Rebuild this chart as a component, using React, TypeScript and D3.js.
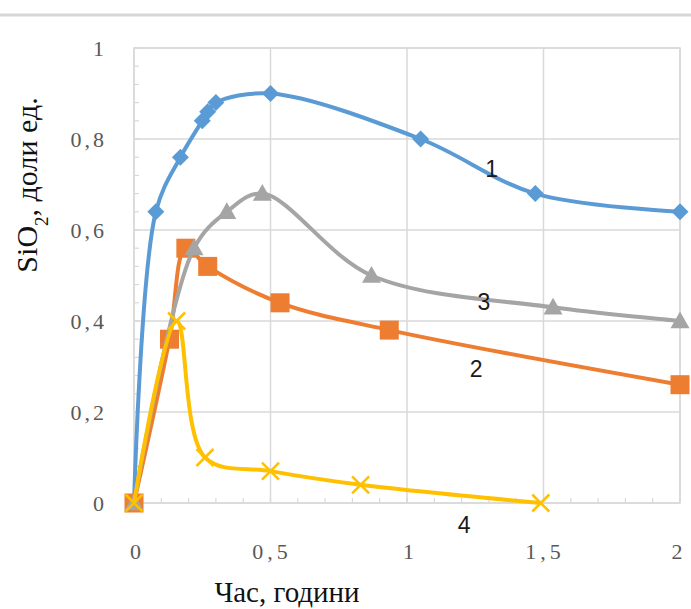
import React from "react";
import * as d3 from "d3";

const xTicks = [0, 0.5, 1, 1.5, 2];
const xTickLabels = ["0", "0,5", "1", "1,5", "2"];
const yTicks = [0, 0.2, 0.4, 0.6, 0.8, 1];
const yTickLabels = ["0", "0,2", "0,4", "0,6", "0,8", "1"];

const s1x = [0, 0.08, 0.17, 0.25, 0.27, 0.3, 0.5, 1.05, 1.47, 2.0];
const s1y = [0, 0.64, 0.76, 0.84, 0.86, 0.88, 0.9, 0.8, 0.68, 0.64];
const s2x = [0, 0.13, 0.19, 0.27, 0.535, 0.935, 2.0];
const s2y = [0, 0.36, 0.56, 0.52, 0.44, 0.38, 0.26];
const s3x = [0, 0.22, 0.34, 0.47, 0.87, 1.535, 2.0];
const s3y = [0, 0.56, 0.64, 0.68, 0.5, 0.43, 0.4];
const s4x = [0, 0.156, 0.26, 0.5, 0.83, 1.49];
const s4y = [0, 0.4, 0.1, 0.07, 0.04, 0.0];

const seriesNames = ["1", "2", "3", "4"];
const colors = ["#5B9BD5", "#ED7D31", "#A5A5A5", "#FFC000"];
const markers = ["diamond", "square", "triangle", "x"];
const labelPos = [
  [1.31, 0.717],
  [1.253, 0.277],
  [1.282, 0.424],
  [1.209, -0.066],
];

const W = 691;
const H = 609;
const L = 134, R = 680, T = 48, B = 503;

export default function App() {
  const x = d3.scaleLinear().domain([0, 2]).range([L, R]);
  const y = d3.scaleLinear().domain([0, 1]).range([B, T]);
  const data = [
    s1x.map((v, i) => [v, s1y[i]]),
    s2x.map((v, i) => [v, s2y[i]]),
    s3x.map((v, i) => [v, s3y[i]]),
    s4x.map((v, i) => [v, s4y[i]]),
  ] as [number, number][][];
  const line = d3
    .line<[number, number]>()
    .x((d) => x(d[0]))
    .y((d) => y(d[1]))
    .curve(d3.curveCatmullRom.alpha(0.5));

  const minorY = d3.range(0, 1.0001, 0.04);
  const minorX = d3.range(0, 2.0001, 0.1);
  const grid = "#d9d9d9";

  const marker = (kind: string, cx: number, cy: number, color: string, key: string) => {
    if (kind === "diamond") {
      const r = 8.5;
      return (
        <path key={key} d={`M${cx},${cy - r}L${cx + r},${cy}L${cx},${cy + r}L${cx - r},${cy}Z`} fill={color} />
      );
    }
    if (kind === "square") {
      const r = 9.5;
      return <rect key={key} x={cx - r} y={cy - r} width={2 * r} height={2 * r} fill={color} />;
    }
    if (kind === "triangle") {
      const r = 9.5;
      return (
        <path key={key} d={`M${cx},${cy - r}L${cx + r},${cy + r * 0.75}L${cx - r},${cy + r * 0.75}Z`} fill={color} />
      );
    }
    const r = 8.5;
    return (
      <path
        key={key}
        d={`M${cx - r},${cy - r}L${cx + r},${cy + r}M${cx + r},${cy - r}L${cx - r},${cy + r}`}
        stroke={color}
        strokeWidth={2.5}
        fill="none"
      />
    );
  };

  return (
    <div style={{ position: "absolute", left: 0, top: 0 }}>
      <svg width={W} height={H} style={{ display: "block", background: "#fff" }}>
        <line x1={0} x2={W} y1={15} y2={15} stroke="#d6d6d6" strokeWidth={3} />
        {yTicks.map((t) => (
          <line key={"gy" + t} x1={L} x2={R} y1={y(t)} y2={y(t)} stroke={grid} strokeWidth={1.5} />
        ))}
        {xTicks.map((t) => (
          <line key={"gx" + t} x1={x(t)} x2={x(t)} y1={T} y2={B} stroke={grid} strokeWidth={1.5} />
        ))}
        {minorY.map((t, i) => (
          <line key={"my" + i} x1={L} x2={L + 5} y1={y(t)} y2={y(t)} stroke={grid} strokeWidth={1.2} />
        ))}
        {minorX.map((t, i) => (
          <line key={"mx" + i} x1={x(t)} x2={x(t)} y1={B} y2={B - 5} stroke={grid} strokeWidth={1.2} />
        ))}
        <rect x={L} y={T} width={R - L} height={B - T} fill="none" stroke={grid} strokeWidth={1.5} />

        {yTicks.map((t, i) => (
          <text
            key={"ty" + t}
            x={107}
            y={y(t) + 8}
            textAnchor="end"
            fontFamily="Liberation Serif, serif"
            fontSize={22}
            letterSpacing={3}
            fill="#595959"
          >
            {yTickLabels[i]}
          </text>
        ))}
        {xTicks.map((t, i) => (
          <text
            key={"tx" + t}
            x={x(t) + (i === 4 ? -3 : 1.5)}
            y={559}
            textAnchor="middle"
            fontFamily="Liberation Serif, serif"
            fontSize={22}
            fill="#595959"
            letterSpacing={i === 1 || i === 3 ? 4 : 0}
          >
            {xTickLabels[i]}
          </text>
        ))}

        <text x={287} y={602} textAnchor="middle" fontFamily="Liberation Serif, serif" fontSize={29} fill="#111">
          Час, години
        </text>
        <text
          transform="translate(37,185) rotate(-90)"
          textAnchor="middle"
          fontFamily="Liberation Serif, serif"
          fontSize={30}
          fill="#111"
        >
          SiO<tspan baselineShift="sub" fontSize={19}>2</tspan>, доли ед.
        </text>

        {data.map((d, si) => (
          <g key={"s" + si}>
            <path d={line(d) || ""} fill="none" stroke={colors[si]} strokeWidth={4} />
            {d.map((p, pi) => marker(markers[si], x(p[0]), y(p[1]), colors[si], `m${si}-${pi}`))}
          </g>
        ))}

        {seriesNames.map((n, i) => (
          <text
            key={"lab" + n}
            x={x(labelPos[i][0])}
            y={y(labelPos[i][1])}
            textAnchor="middle"
            fontFamily="Liberation Sans, Arial, sans-serif"
            fontSize={23}
            fill="#1a1a1a"
          >
            {n}
          </text>
        ))}
      </svg>
    </div>
  );
}
